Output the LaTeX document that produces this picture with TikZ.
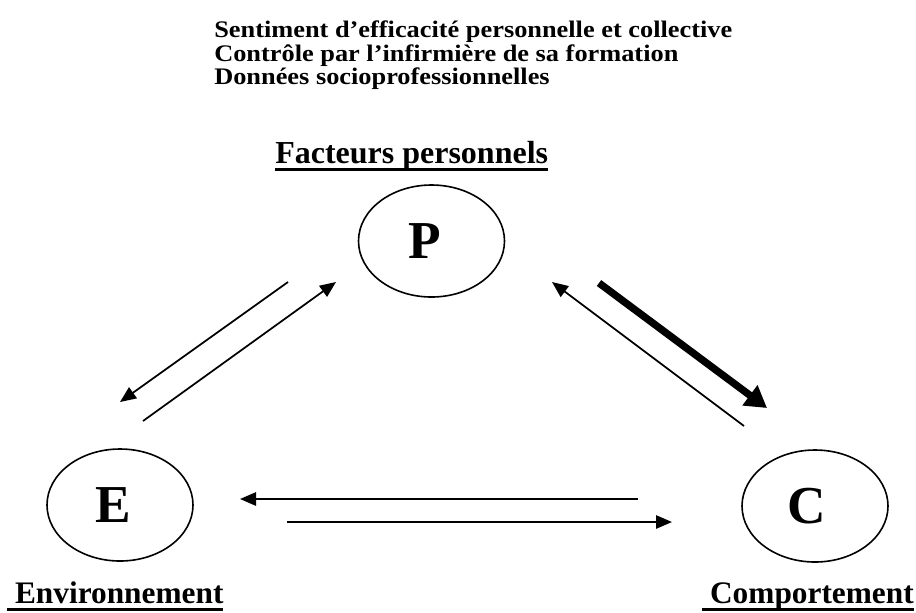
\documentclass[tikz,border=0pt]{standalone}
\usepackage{fontspec}
\setmainfont{Liberation Serif}
\usetikzlibrary{arrows.meta,shapes.geometric}
\newsavebox\myulbox
\newcommand\myul[1]{\sbox\myulbox{#1}\rlap{\rule[-6pt]{\wd\myulbox}{2.25pt}}\usebox\myulbox}
\tikzset{
  header/.style={anchor=base west, inner sep=0pt, xscale=1.11, transform shape, font=\fontsize{17.8pt}{22pt}\selectfont\bfseries},
  label/.style={anchor=base west, inner sep=0pt, font=\fontsize{23.5pt}{28pt}\selectfont\bfseries},
  oval/.style={draw, ellipse, line width=1.2pt, minimum width=109.5pt, minimum height=84pt, inner sep=0pt},
  letter/.style={inner sep=0pt, font=\fontsize{40pt}{48pt}\selectfont\bfseries},
  thinarrow/.style={line width=1.3pt, -{Triangle[length=12pt,width=10pt]}},
  thickarrow/.style={line width=5.5pt, -{Triangle[length=16pt,width=18pt]}}
}
\begin{document}
\begin{tikzpicture}[x=0.75pt,y=-0.75pt]
\useasboundingbox (0,0) rectangle (916,612);
% header texts
\node[header] (h1) at (214,37.5) {Sentiment d’efficacité personnelle et collective};
\node[header] (h2) at (214,61) {Contrôle par l’infirmière de sa formation};
\node[header] (h3) at (214,84.5) {Données socioprofessionnelles};
% labels
\node[label, font=\fontsize{24pt}{28pt}\selectfont\bfseries] (fp) at (275,163) {\myul{Facteurs personnels}};
\node[label] (env) at (7,603) {\myul{\ Environnement}};
\node[label] (comp) at (702,603) {\myul{\ Comportement}};
% ellipses
\node[oval] (P) at (431.5,241) {};
\node[oval] (E) at (120,505) {};
\node[oval] (C) at (815,506) {};
\node[letter] (Pl) at ([xshift=-5pt]P.center) {P};
\node[letter] (El) at ([xshift=-5pt]E.center) {E};
\node[letter] (Cl) at ([xshift=-6pt]C.center) {C};
% arrow end points
\coordinate (a1s) at (288,282); \coordinate (a1e) at (120,402);
\coordinate (a2s) at (143,421); \coordinate (a2e) at (336,282);
\coordinate (a3s) at (744,426); \coordinate (a3e) at (552,282);
\coordinate (a4s) at (599,283); \coordinate (a4e) at (767,408);
\coordinate (a5s) at (638,499); \coordinate (a5e) at (240,499);
\coordinate (a6s) at (287,522); \coordinate (a6e) at (672,522);
\draw[thinarrow] (a1s) -- (a1e);
\draw[thinarrow] (a2s) -- (a2e);
\draw[thinarrow] (a3s) -- (a3e);
\draw[thickarrow] (a4s) -- (a4e);
\draw[thinarrow] (a5s) -- (a5e);
\draw[thinarrow] (a6s) -- (a6e);
\end{tikzpicture}
\end{document}
